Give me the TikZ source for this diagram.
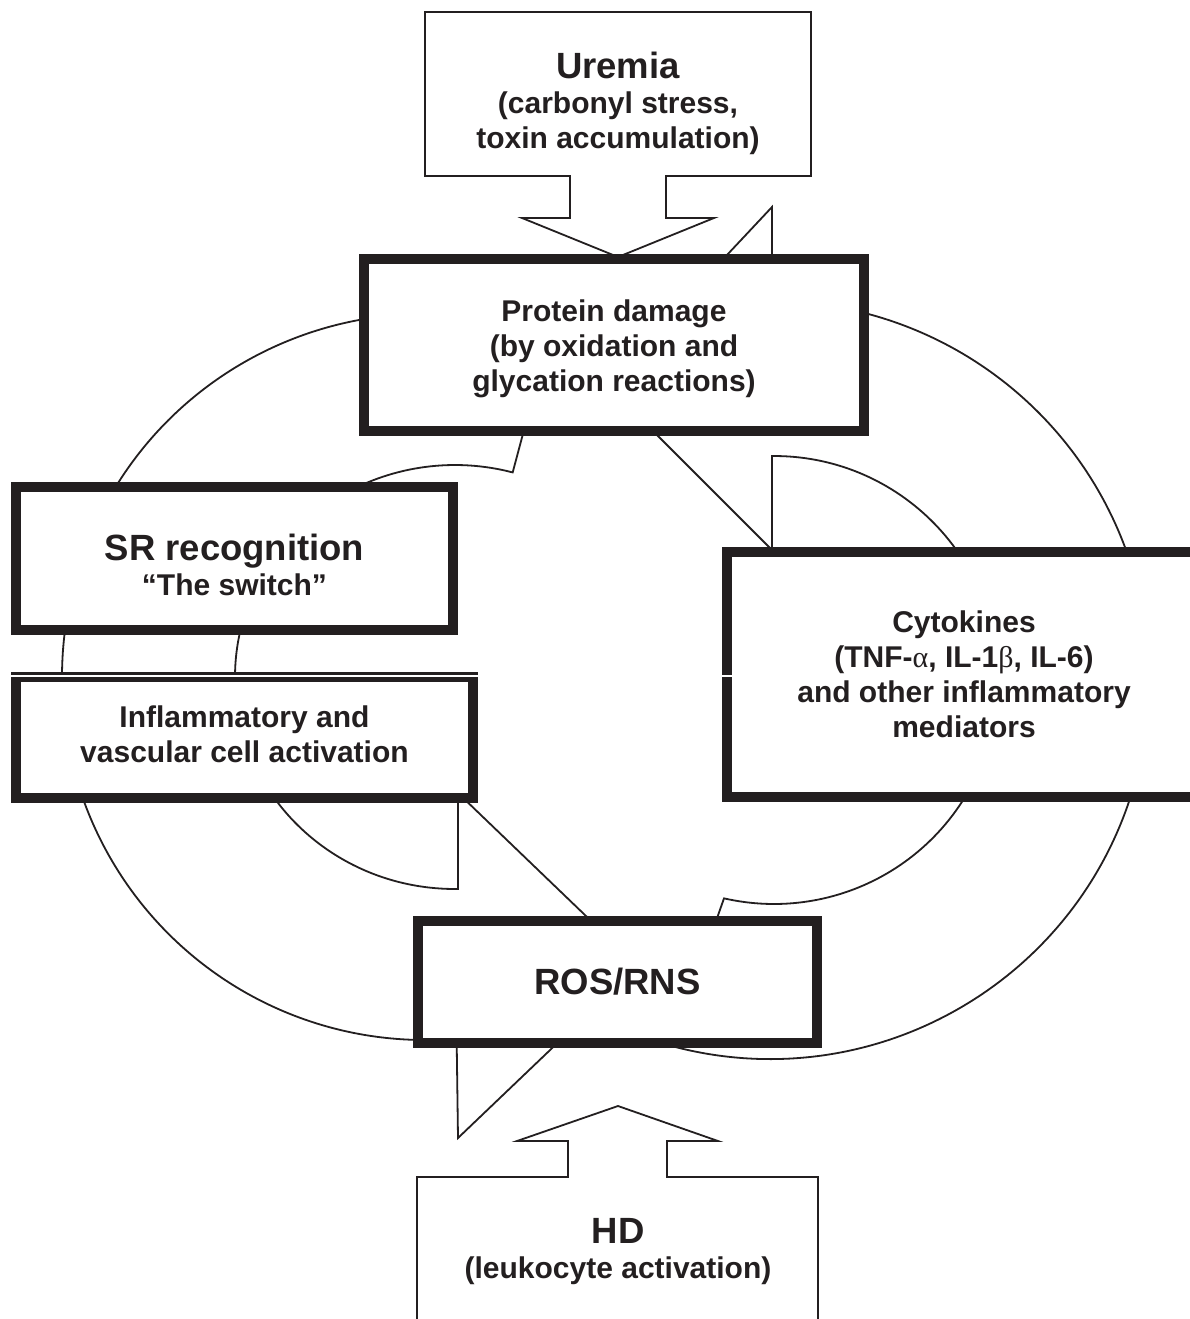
\documentclass[tikz,border=0pt]{standalone}
\usepackage{fontspec}
\setmainfont{Liberation Sans}
\newfontfamily\symbolfont{Liberation Serif}
\usetikzlibrary{calc}
\definecolor{ink}{HTML}{231F20}
\newcommand{\titletext}[1]{{\fontsize{36.5}{35}\selectfont #1}}
\newcommand{\greekchar}[1]{{\symbolfont\mdseries #1}}
\tikzset{
  box/.style={draw=ink, line width=10pt, fill=white, align=center, inner sep=0pt, text=ink},
  ring/.style={draw=ink, line width=1.8pt, fill=white},
  outline/.style={draw=ink, line width=1.8pt, fill=white},
  bodyfont/.style={font=\fontsize{30}{35}\selectfont\bfseries},
}

\begin{document}
\begin{tikzpicture}[x=1pt,y=-1pt]
%%%%% START %%%%%
\def\lcx{425}\def\lcy{677}\def\lro{363}
\def\lix{455}\def\lrx{220}\def\lry{212}
\def\rcx{770}\def\rcy{680}\def\rro{379}
\def\rix{774}\def\rri{224}

\clip (0,0) rectangle (1190,1319);
\fill[white] (0,0) rectangle (1190,1319);

% left ring arrow
\draw[ring] ($(\lcx,\lcy)+(-70:\lro)$) arc[start angle=-70, end angle=-275, radius=\lro]
  -- (458,1138) -- (638,966) -- (458,793)
  -- ($(\lix,\lcy)+(89.2:{\lrx} and {\lry})$) arc[start angle=89.2, end angle=285.2, x radius=\lrx, y radius=\lry]
  -- cycle;
% right ring arrow
\draw[ring] ($(\rcx,\rcy)+(105:\rro)$) arc[start angle=105, end angle=-89.7, radius=\rro]
  -- (772,207) -- (606,384) -- (772,550)
  -- ($(\rix,\rcy)+(-90.5:\rri)$) arc[start angle=-90.5, end angle=102.9, radius=\rri]
  -- cycle;

\draw[outline] (425,12) -- (811,12) -- (811,176) -- (666,176) -- (666,218) -- (714,218) -- (618,257)
  -- (522,218) -- (570,218) -- (570,176) -- (425,176) -- cycle;
\node[bodyfont, align=center, text=ink] (uremia) at (618,103) {\titletext{Uremia}\\(carbonyl stress,\\toxin accumulation)};

\draw[outline] (417,1335) -- (417,1177) -- (568,1177) -- (568,1141) -- (517,1141) -- (618,1106)
  -- (718,1141) -- (667,1141) -- (667,1177) -- (818,1177) -- (818,1335) -- cycle;
\node[bodyfont, align=center, text=ink] (hd) at (618,1252) {\titletext{HD}\\(leukocyte activation)};

\node[box, bodyfont, minimum width=500pt, minimum height=172pt] (protein) at (614,345)
  {\rule{0pt}{30pt}Protein damage\\(by oxidation and\\glycation reactions)};
\node[box, bodyfont, minimum width=437pt, minimum height=143pt] (srrec) at (234.5,558.5)
  {\titletext{\rule{0pt}{40pt}SR recognition}\\“The switch”};
\node[box, bodyfont, minimum width=457pt, minimum height=121pt] (inflam) at (244.5,737.5)
  {Inflammatory and\\vascular cell activation\rule[-6pt]{0pt}{0pt}};
\node[box, bodyfont, minimum width=474pt, minimum height=245pt] (cytok) at (964,674.5)
  {Cytokines\\(TNF-\greekchar{α}, IL-1\greekchar{β}, IL-6)\\and other inflammatory\\mediators};
\node[box, bodyfont, minimum width=399pt, minimum height=122pt] (rosrns) at (617.5,982)
  {\titletext{ROS/RNS}};

\draw[white, line width=1.2pt] (8,676) -- (736,676);
%%%%% END %%%%%
\end{tikzpicture}
\end{document}
